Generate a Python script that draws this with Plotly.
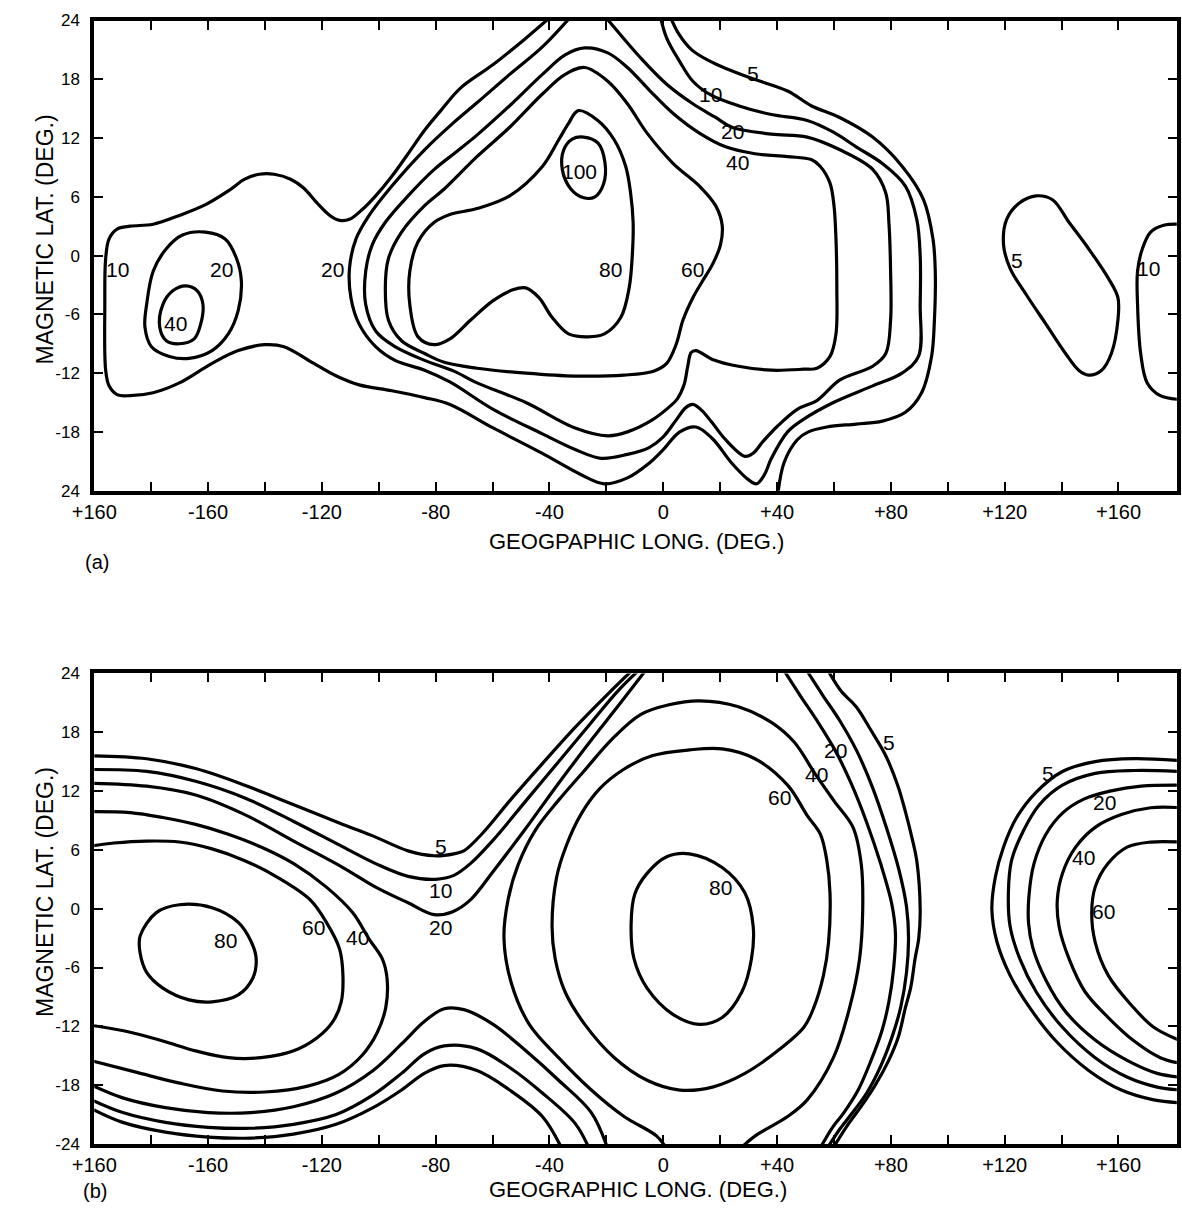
import plotly.graph_objects as go

FONT = "Liberation Sans, Arial, sans-serif"

# ---------------- axis data ----------------
X_TICK_VALS = list(range(-200, 161, 20))
X_TICK_LABELS = {-200: "+160", -160: "-160", -120: "-120", -80: "-80", -40: "-40",
                 0: "0", 40: "+40", 80: "+80", 120: "+120", 160: "+160"}
Y_TICK_VALS = [-24, -18, -12, -6, 0, 6, 12, 18, 24]
Y_TICK_TEXT_A = ["24", "-18", "-12", "-6", "0", "6", "12", "18", "24"]
Y_TICK_TEXT_B = ["-24", "-18", "-12", "-6", "0", "6", "12", "18", "24"]

# ---------------- panel (a) contours: (lon, lat) ----------------
A_C5 = [(2.3, 24.5), (5.5, 22.6), (10.0, 21.0), (16.0, 19.9), (22.0, 19.1), (31.0, 18.1), (43.7, 16.8),
        (52.0, 15.3), (62.0, 14.1), (73.6, 12.1), (84.0, 9.1), (91.5, 5.7), (94.8, 1.7), (95.6, -1.6),
        (95.3, -6.6), (94.3, -10.3), (90.8, -14.0), (85.1, -16.0), (77.0, -16.9), (67.8, -17.2),
        (57.5, -17.5), (51.0, -18.0), (47.1, -18.8), (42.5, -21.1), (40.2, -24.5)]
A_C10 = [(-39.1, 24.5), (-48.3, 22.2), (-59.8, 19.5), (-71.3, 17.1), (-78.2, 14.8), (-83.9, 12.8),
         (-89.7, 10.4), (-95.4, 8.1), (-101.1, 6.1), (-105.8, 4.7), (-110.3, 3.7), (-113.8, 3.6),
         (-117.2, 4.1), (-121.8, 5.4), (-126.4, 6.9), (-131.0, 7.8), (-136.8, 8.3), (-142.0, 8.3),
         (-147.1, 7.8), (-152.9, 6.6), (-160.9, 5.2), (-170.1, 4.1), (-179.3, 3.2), (-187.4, 3.0),
         (-192.0, 2.7), (-194.8, 1.7), (-196.0, -0.3), (-196.3, -5.0), (-196.0, -11.7), (-194.8, -13.3),
         (-192.0, -14.2), (-187.4, -14.3), (-179.3, -14.0), (-170.1, -13.0), (-158.6, -11.0),
         (-149.4, -9.7), (-140.2, -9.1), (-133.3, -9.3), (-124.1, -10.8), (-114.9, -12.3),
         (-106.9, -13.2), (-95.4, -13.8), (-83.9, -14.5), (-75.0, -15.2), (-59.8, -17.6),
         (-42.5, -20.2), (-28.7, -22.4), (-20.7, -23.3), (-12.6, -22.7), (-5.0, -21.2), (0.0, -19.8),
         (5.8, -18.0), (11.5, -17.5), (17.3, -18.7), (24.1, -21.2), (30.0, -22.9), (32.8, -23.3),
         (35.5, -22.4), (38.0, -20.7), (43.7, -18.0), (49.4, -16.7), (59.8, -15.0), (73.6, -13.3),
         (83.9, -12.0), (89.7, -10.3), (90.3, -5.0), (90.3, 0.0), (89.1, 3.7), (85.1, 7.1), (77.0, 9.4),
         (67.8, 11.1), (59.8, 12.6), (50.6, 13.8), (38.0, 14.4), (26.4, 15.3), (16.7, 16.4),
         (10.4, 17.8), (5.8, 19.8), (1.2, 22.2), (-1.1, 24.5)]
A_C20 = [(-32.2, 24.5), (-42.5, 21.3), (-54.0, 18.5), (-65.5, 15.6), (-73.6, 13.6), (-83.9, 10.8),
         (-95.4, 7.1), (-103.4, 4.1), (-108.0, 1.7), (-110.3, -1.3), (-109.8, -4.3), (-106.9, -7.0),
         (-101.1, -9.3), (-94.3, -10.7), (-83.9, -11.7), (-75.0, -12.9), (-59.8, -15.7), (-42.5, -18.2),
         (-31.0, -19.8), (-21.8, -20.7), (-12.6, -20.3), (-5.0, -19.6), (0.0, -18.5), (4.5, -16.8),
         (8.0, -15.5), (10.4, -15.2), (13.5, -15.8), (17.0, -17.0), (21.9, -18.8), (28.7, -20.5),
         (31.5, -20.2), (35.0, -19.0), (40.2, -17.4), (47.1, -15.7), (54.0, -14.8), (62.1, -12.7),
         (73.6, -11.3), (78.2, -10.0), (79.9, -6.6), (79.9, -1.6), (79.3, 3.4), (78.2, 6.4), (73.6, 8.8),
         (62.1, 10.8), (50.6, 12.1), (38.0, 12.4), (24.1, 13.1), (18.4, 14.1), (10.4, 15.5), (1.2, 17.5),
         (-8.0, 20.2), (-14.9, 22.5), (-20.7, 24.5)]
A_C40 = [(-27.6, 21.2), (-19.5, 20.7), (-12.6, 19.2), (-4.6, 16.8), (3.5, 14.5), (12.7, 12.5),
         (21.9, 11.1), (32.2, 10.4), (43.7, 10.1), (52.0, 9.8), (55.2, 9.1), (58.6, 7.4), (60.0, 5.1),
         (60.7, 1.7), (61.0, -3.3), (60.7, -8.0), (58.6, -10.3), (54.0, -11.5), (49.4, -11.6),
         (38.0, -11.7), (26.4, -11.3), (17.3, -10.6), (11.5, -9.7), (9.8, -9.9), (8.6, -11.3),
         (7.3, -13.2), (5.0, -14.6), (1.5, -15.6), (-4.0, -16.8), (-12.6, -18.0), (-19.5, -18.4),
         (-31.0, -17.6), (-48.3, -15.0), (-65.5, -13.0), (-73.6, -11.8), (-83.9, -10.7), (-94.3, -9.3),
         (-101.1, -7.7), (-104.6, -5.0), (-104.6, -1.6), (-102.3, 1.1), (-97.7, 3.4), (-89.7, 6.1),
         (-80.5, 8.8), (-73.6, 10.4), (-65.5, 12.3), (-54.0, 15.3), (-42.5, 18.5), (-34.5, 20.5),
         (-27.6, 21.2)]
A_C60 = [(-27.6, 19.2), (-19.5, 17.8), (-12.6, 15.5), (-5.7, 12.5), (3.5, 9.4), (12.7, 7.1), (18.4, 5.1),
         (20.7, 3.1), (20.1, 1.1), (17.3, -0.9), (13.8, -2.6), (10.4, -4.3), (6.9, -6.6), (4.6, -9.0),
         (1.2, -11.0), (-3.4, -11.8), (-13.8, -12.2), (-31.0, -12.3), (-48.3, -12.0), (-65.5, -11.5),
         (-77.0, -10.9), (-83.9, -10.0), (-92.0, -8.7), (-96.6, -6.6), (-97.7, -3.3), (-96.6, -0.3),
         (-92.0, 2.4), (-83.9, 5.1), (-77.0, 6.8), (-65.5, 10.1), (-54.0, 13.1), (-42.5, 16.5),
         (-34.5, 18.5), (-27.6, 19.2)]
A_C80 = [(-29.9, 14.8), (-23.0, 13.8), (-17.2, 11.8), (-13.2, 9.1), (-11.5, 6.4), (-10.6, 3.4),
         (-10.9, 0.0), (-12.0, -3.3), (-14.9, -6.3), (-20.7, -8.0), (-26.4, -8.3), (-33.3, -8.0),
         (-39.1, -6.3), (-43.7, -4.3), (-48.3, -3.3), (-52.9, -3.5), (-59.8, -4.6), (-67.8, -6.6),
         (-75.0, -8.5), (-80.5, -9.1), (-86.2, -8.3), (-89.1, -5.0), (-89.1, -1.6), (-86.2, 1.4),
         (-80.5, 3.4), (-75.0, 4.2), (-65.5, 4.8), (-54.0, 6.1), (-42.5, 9.1), (-36.8, 11.8),
         (-33.3, 13.5), (-29.9, 14.8)]
A_C100 = [(-28.0, 12.1), (-23.0, 11.5), (-20.5, 9.5), (-21.0, 7.3), (-24.0, 6.0), (-28.0, 5.9),
          (-32.5, 6.8), (-35.5, 8.8), (-35.0, 10.8), (-32.0, 11.9), (-28.0, 12.1)]
A_C20_BLOB = [(-160.9, 2.4), (-154.0, 1.7), (-150.0, -0.3), (-148.3, -2.6), (-149.4, -5.6), (-152.9, -8.0),
              (-158.6, -9.7), (-166.7, -10.5), (-173.6, -10.3), (-179.9, -9.3), (-182.2, -7.3),
              (-181.6, -5.0), (-179.3, -1.6), (-174.7, 0.7), (-169.0, 2.1), (-160.9, 2.4)]
A_C40_BLOB = [(-167.8, -3.1), (-163.8, -3.6), (-161.8, -5.0), (-162.6, -7.0), (-164.9, -8.5), (-170.1, -9.0),
              (-174.7, -8.7), (-177.0, -7.3), (-175.9, -5.0), (-172.4, -3.6), (-167.8, -3.1)]
A_C5_BLOB = [(131.1, 6.1), (136.8, 5.7), (142.6, 3.4), (149.5, 0.7), (156.4, -2.3), (159.8, -4.3),
             (159.8, -6.6), (157.5, -10.0), (154.1, -11.7), (149.5, -12.2), (146.0, -11.7), (141.4, -10.0),
             (134.5, -7.0), (127.6, -4.0), (121.9, -1.3), (119.6, 1.1), (120.7, 3.7), (125.3, 5.4),
             (131.1, 6.1)]
A_C10_EDGE = [(182.0, 3.2), (175.9, 3.1), (171.3, 2.4), (168.4, 0.7), (166.7, -1.6), (166.7, -5.0),
              (167.8, -10.0), (170.1, -13.0), (174.7, -14.3), (182.0, -14.7)]

A_LABELS = [("10", -192.0, -1.45), ("20", -155.2, -1.45), ("40", -171.3, -6.9), ("20", -116.1, -1.45),
            ("100", -29.6, 8.6), ("80", -18.4, -1.45), ("60", 10.4, -1.45), ("5", 31.6, 18.6),
            ("10", 16.7, 16.4), ("20", 24.2, 12.7), ("40", 26.1, 9.5), ("5", 124.2, -0.5),
            ("10", 170.7, -1.3)]

# ---------------- panel (b) contours ----------------
B_C5_TOP = [(-201, 15.6), (-181.6, 15.3), (-164.4, 14.3), (-147.1, 12.6), (-129.9, 10.6), (-112.6, 8.6),
            (-101.1, 7.3), (-89.7, 5.9), (-80.5, 5.4), (-73.6, 5.6), (-70.1, 5.9), (-63.2, 7.8),
            (-54.0, 11.0), (-42.5, 14.8), (-31.0, 18.5), (-19.5, 21.9), (-10.3, 24.5)]
B_C10_TOP = [(-201, 14.2), (-181.6, 14.0), (-164.4, 13.0), (-147.1, 11.3), (-129.9, 8.9), (-112.6, 6.3),
             (-101.1, 4.6), (-89.7, 3.3), (-80.0, 3.0), (-73.6, 3.4), (-67.8, 4.6), (-59.8, 7.0),
             (-48.3, 11.0), (-36.8, 15.0), (-25.3, 19.0), (-16.0, 22.2), (-8.0, 24.5)]
B_C20_TOP = [(-201, 12.8), (-181.6, 12.5), (-164.4, 11.6), (-147.1, 9.6), (-129.9, 6.9), (-112.6, 4.2),
             (-101.1, 2.2), (-89.7, 0.6), (-80.5, -0.6), (-74.0, -0.3), (-67.8, 0.9), (-59.8, 3.8),
             (-48.3, 8.2), (-36.8, 12.8), (-25.3, 17.2), (-15.0, 21.0), (-5.7, 24.5)]
B_C5_BOT = [(-201, -20.4), (-190, -21.8), (-175, -22.8), (-160, -23.3), (-145, -23.4), (-130, -23.0),
            (-115, -22.0), (-102, -20.3), (-92, -18.5), (-84, -16.8), (-77, -16.0), (-65.5, -16.5),
            (-54, -18.5), (-42.5, -21.2), (-35.6, -24.5)]
B_C10_BOT = [(-201, -19.5), (-190, -20.8), (-175, -21.8), (-160, -22.3), (-145, -22.4), (-130, -22.0),
             (-115, -21.0), (-102, -19.0), (-92, -16.8), (-84, -14.8), (-77, -14.0), (-65.5, -14.3),
             (-54, -16.2), (-42.5, -18.8), (-31, -21.9), (-26, -24.5)]
B_C20_BOT = [(-201, -18.0), (-190, -19.3), (-175, -20.3), (-160, -20.8), (-145, -20.8), (-130, -20.2),
             (-115, -18.8), (-102, -16.5), (-92, -13.8), (-84, -11.5), (-77, -10.2), (-70.1, -10.3),
             (-59.8, -11.8), (-48.3, -14.5), (-36.8, -17.5), (-25.3, -20.8), (-19.5, -24.5)]
B_C40_L = [(-201, 9.9), (-187.4, 9.8), (-175.9, 9.3), (-164.4, 8.6), (-152.9, 7.6), (-141.4, 6.3),
           (-129.9, 4.6), (-118.4, 2.2), (-109.2, -0.4), (-103.4, -3.1), (-98.8, -5.1), (-97.1, -7.1),
           (-97.5, -10.0), (-100.5, -12.6), (-106.0, -15.0), (-114.0, -16.9), (-125.0, -18.1),
           (-140.0, -18.7), (-155.0, -18.6), (-170.0, -17.8), (-185.0, -16.7), (-201, -15.5)]
B_C60_L = [(-201, 6.4), (-193.1, 6.7), (-181.6, 6.9), (-170.1, 6.8), (-158.6, 6.1), (-147.1, 4.9),
           (-135.6, 3.2), (-124.1, 0.9), (-118.4, -1.4), (-113.8, -4.1), (-112.6, -6.8), (-113.2, -9.5),
           (-116.1, -11.5), (-121.8, -13.2), (-129.9, -14.5), (-141.4, -15.2), (-152.9, -15.2),
           (-164.4, -14.5), (-175.9, -13.5), (-187.4, -12.6), (-201, -11.9)]
B_C80_L = [(-183.9, -2.8), (-178.2, -0.4), (-170.1, 0.4), (-158.6, 0.1), (-149.4, -1.4), (-144.8, -3.4),
           (-143.1, -5.1), (-144.3, -7.1), (-149.4, -8.8), (-158.6, -9.5), (-166.7, -9.3), (-175.9, -8.1),
           (-181.6, -6.5), (-183.9, -4.5), (-183.9, -2.8)]
B_C40_C = [(1.2, -24.5), (-2.3, -23.2), (-13.8, -21.2), (-25.3, -18.5), (-36.8, -15.2), (-47.1, -11.8),
           (-53.5, -7.5), (-56.0, -3.0), (-54.5, 1.0), (-51.0, 4.5), (-45.0, 8.0), (-37.0, 11.0),
           (-28.0, 14.0), (-18.0, 17.3), (-8.0, 19.8), (2.0, 20.8), (12.7, 21.2), (26.4, 20.6),
           (38.0, 19.0), (46.0, 17.0), (53.5, 13.7), (60.0, 11.0), (66.7, 8.3), (69.6, 4.5), (70.1, -0.1),
           (69.0, -5.1), (65.5, -10.1), (59.8, -15.2), (50.6, -19.5), (43.7, -21.2), (32.2, -23.2),
           (27.0, -24.5)]
B_C60_C = [(-39.1, -1.8), (-37.5, 3.2), (-34.0, 6.5), (-29.0, 9.6), (-22.5, 12.2), (-14.0, 14.2),
           (-4.0, 15.6), (9.2, 16.2), (20.7, 16.3), (32.2, 15.3), (43.7, 12.6), (50.6, 9.5), (55.2, 7.6),
           (57.5, 4.9), (58.6, 1.6), (58.1, -3.4), (56.3, -6.8), (52.9, -10.1), (49.4, -12.1),
           (40.2, -14.5), (28.7, -16.8), (17.3, -18.2), (5.8, -18.5), (-5.7, -17.5), (-17.2, -15.2),
           (-27.6, -11.8), (-34.5, -8.5), (-38.0, -5.1), (-39.1, -1.8)]
B_C80_C = [(9.2, 5.6), (20.7, 4.2), (28.7, 1.6), (31.6, -1.8), (31.0, -5.1), (27.6, -8.5), (20.7, -11.1),
           (12.7, -11.8), (3.5, -10.8), (-5.7, -8.1), (-10.3, -5.1), (-11.3, -1.5), (-10.0, 1.5),
           (-5.7, 3.6), (1.2, 5.3), (9.2, 5.6)]
B_C20_C = [(42.0, 24.5), (48.0, 21.8), (54.0, 19.2), (60.5, 16.1), (66.0, 12.8), (71.5, 8.8), (76.5, 4.5),
           (80.3, 0.5), (81.6, -2.5), (81.0, -6.0), (79.3, -9.5), (76.8, -12.5), (73.0, -15.5),
           (68.5, -18.5), (63.5, -20.8), (59.5, -22.3), (55.0, -24.5)]
B_C10_C = [(50.0, 24.5), (56.0, 21.8), (62.0, 19.2), (68.0, 16.1), (73.5, 12.4), (78.5, 8.2), (82.8, 4.0),
           (85.5, 0.2), (86.2, -3.0), (85.5, -6.5), (83.5, -10.0), (80.5, -13.0), (76.5, -16.0),
           (71.5, -18.8), (66.0, -21.0), (62.0, -22.5), (57.5, -24.5)]
B_C5_C = [(57.5, 24.5), (62.5, 22.2), (67.8, 20.6), (73.0, 18.2), (78.2, 15.6), (82.5, 12.5), (85.1, 9.9),
          (87.6, 7.0), (89.1, 4.9), (90.3, -0.1), (89.8, -3.0), (88.5, -5.1), (87.0, -8.0), (85.1, -10.1),
          (82.5, -13.2), (79.2, -15.5), (74.5, -18.0), (69.5, -20.2), (64.5, -22.2), (59.5, -24.5)]
B_C5_R = [(182, 15.1), (165.5, 15.3), (151.8, 15.0), (140.3, 14.0), (131.1, 11.9), (124.2, 9.3),
          (119.6, 6.3), (116.7, 3.2), (115.5, -0.1), (117.3, -3.4), (121.9, -6.8), (128.8, -10.1),
          (138.0, -13.5), (149.5, -16.5), (161.0, -18.5), (172.4, -19.5), (182, -19.8)]
B_C10_R = [(182, 14.0), (165.5, 14.1), (151.8, 13.8), (140.3, 12.6), (132.2, 10.6), (126.5, 7.9),
           (122.4, 4.9), (121.3, 1.6), (121.9, -1.8), (125.3, -5.1), (131.1, -8.5), (140.3, -12.1),
           (151.8, -15.2), (163.2, -17.2), (173.6, -18.2), (182, -18.5)]
B_C20_R = [(182, 12.6), (168.0, 12.5), (157.0, 12.0), (148.0, 11.2), (140.5, 9.8), (134.5, 7.6),
           (130.3, 4.6), (128.5, 1.2), (128.4, -1.5), (129.9, -4.0), (134.5, -7.3), (141.4, -10.5),
           (151.8, -13.4), (163.2, -15.5), (173.6, -16.8), (182, -17.2)]
B_C40_R = [(182, 10.3), (171.3, 10.3), (161.0, 9.6), (151.8, 8.3), (145.0, 6.3), (140.3, 3.6),
           (138.5, 0.9), (139.1, -1.8), (142.6, -5.1), (148.3, -8.5), (156.4, -11.1), (165.5, -13.5),
           (174.7, -15.2), (182, -15.8)]
B_C60_R = [(182, 6.8), (171.3, 6.8), (163.2, 6.3), (156.3, 4.6), (151.8, 2.2), (150.6, -0.4),
           (151.8, -3.4), (156.4, -6.8), (164.4, -9.8), (172.4, -12.1), (182, -13.5)]

B_LABELS = [("5", -78.2, 6.3), ("10", -78.2, 1.9), ("20", -78.2, -1.9), ("80", -154.0, -3.2),
            ("60", -123.0, -1.9), ("40", -107.5, -2.9), ("80", 20.1, 2.2), ("60", 40.8, 11.3),
            ("40", 54.0, 13.7), ("20", 60.4, 16.1), ("5", 79.3, 17.0), ("5", 135.1, 13.8),
            ("20", 155.2, 10.8), ("40", 147.7, 5.2), ("60", 154.6, -0.3)]

A_CONTOURS = [A_C5, A_C10, A_C20, A_C40, A_C60, A_C80, A_C100, A_C20_BLOB, A_C40_BLOB, A_C5_BLOB, A_C10_EDGE]
B_CONTOURS = [B_C5_TOP, B_C10_TOP, B_C20_TOP, B_C5_BOT, B_C10_BOT, B_C20_BOT, B_C40_L, B_C60_L, B_C80_L,
              B_C40_C, B_C60_C, B_C80_C, B_C20_C, B_C10_C, B_C5_C,
              B_C5_R, B_C10_R, B_C20_R, B_C40_R, B_C60_R]

fig = go.Figure()


def add_lines(contours, xa, ya):
    for c in contours:
        fig.add_trace(go.Scatter(
            x=[p[0] for p in c], y=[p[1] for p in c], mode="lines",
            line=dict(color="black", width=3.2, shape="spline", smoothing=1.0),
            xaxis=xa, yaxis=ya, hoverinfo="skip", showlegend=False))


add_lines(A_CONTOURS, "x", "y")
add_lines(B_CONTOURS, "x2", "y2")

LABEL_FONT = dict(family=FONT, size=21, color="black")
annotations = []
for txt, lon, lat in A_LABELS:
    annotations.append(dict(text=txt, x=lon, y=lat, xref="x", yref="y", showarrow=False,
                            xanchor="center", yanchor="middle", font=LABEL_FONT))
for txt, lon, lat in B_LABELS:
    annotations.append(dict(text=txt, x=lon, y=lat, xref="x2", yref="y2", showarrow=False,
                            xanchor="center", yanchor="middle", font=LABEL_FONT))

W, H = 1182, 1214
TITLE_FONT = dict(family=FONT, size=22, color="black")


def paper_note(text, px, py, font, angle=0):
    return dict(text=text, x=px / W, y=1 - py / H, xref="paper", yref="paper", showarrow=False,
                xanchor="center", yanchor="middle", textangle=angle, font=font)


annotations += [
    paper_note("MAGNETIC LAT. (DEG.)", 22.5, 234, dict(family=FONT, size=23, color="black"), -90),
    paper_note("MAGNETIC LAT. (DEG.)", 22.5, 897, dict(family=FONT, size=23, color="black"), -90),
    paper_note("GEOGPAPHIC LONG. (DEG.)", 626, 541, TITLE_FONT),
    paper_note("GEOGRAPHIC LONG. (DEG.)", 627, 1199, TITLE_FONT),
    paper_note("(a)", 75, 562, dict(family=FONT, size=20, color="black")),
    paper_note("(b)", 73, 1201, dict(family=FONT, size=20, color="black")),
]

x_text = [X_TICK_LABELS.get(v, "") for v in X_TICK_VALS]
XDOM = [72.7 / W, 1176.7 / W]
common_x = dict(range=[-200, 180.5], tickmode="array", tickvals=X_TICK_VALS, ticktext=x_text,
                ticks="inside", ticklen=9, tickwidth=2, tickcolor="black", showline=True,
                linecolor="black", linewidth=4, mirror="allticks", showgrid=False, zeroline=False,
                tickfont=dict(family=FONT, size=20, color="black"), domain=XDOM, fixedrange=True)
common_y = dict(range=[-24, 24], tickmode="array", tickvals=Y_TICK_VALS,
                ticks="inside", ticklen=9, tickwidth=2, tickcolor="black", showline=True,
                linecolor="black", linewidth=4, mirror="allticks", showgrid=False, zeroline=False,
                tickfont=dict(family=FONT, size=17, color="black"), fixedrange=True)

fig.update_layout(
    width=W, height=H, margin=dict(l=0, r=0, t=0, b=0),
    paper_bgcolor="white", plot_bgcolor="white", showlegend=False,
    xaxis=dict(**common_x, anchor="y"),
    yaxis=dict(**common_y, ticktext=Y_TICK_TEXT_A, anchor="x",
               domain=[1 - 489.3 / H, 1 - 11.7 / H]),
    xaxis2=dict(**common_x, anchor="y2"),
    yaxis2=dict(**common_y, ticktext=Y_TICK_TEXT_B, anchor="x2",
                domain=[1 - 1153 / H, 1 - 675 / H]),
    annotations=annotations,
)
try:
    fig.update_xaxes(ticklabelstandoff=0)
    fig.update_yaxes(ticklabelstandoff=7)
except Exception:
    pass

fig.write_html("out.html")
